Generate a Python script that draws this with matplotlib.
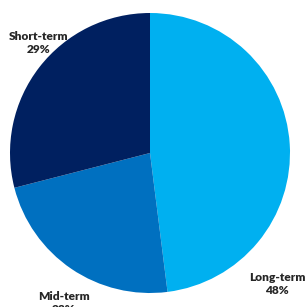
import matplotlib
matplotlib.use("Agg")
import matplotlib.pyplot as plt

# data
labels = ["Long-term", "Mid-term", "Short-term"]
shares = [48, 23, 29]
colors = ["#00B0F0", "#0070C0", "#002060"]

# label spots in pixels (x, y from top), centre of the two-line block
label_pos = {"Long-term": (277, 284), "Mid-term": (64, 303), "Short-term": (39, 43)}

W, H = 305, 307
fig = plt.figure(figsize=(W / 100, H / 100), dpi=100)
ax = fig.add_axes([10 / W, (H - 293) / H, 280 / W, 280 / H])
ax.pie(shares, colors=colors, startangle=90, counterclock=False, radius=1,
       wedgeprops=dict(edgecolor="none"))
ax.set_xlim(-1, 1)
ax.set_ylim(-1, 1)
ax.set_aspect("equal")
ax.axis("off")

for lab, val in zip(labels, shares):
    x, y = label_pos[lab]
    fig.text(x / W, 1 - y / H, f"{lab}\n{val}%", ha="center", va="center",
             fontsize=8.6, fontweight="heavy", family="Lato", color="#262626",
             linespacing=1.15)

fig.savefig("out.png", dpi=100)
